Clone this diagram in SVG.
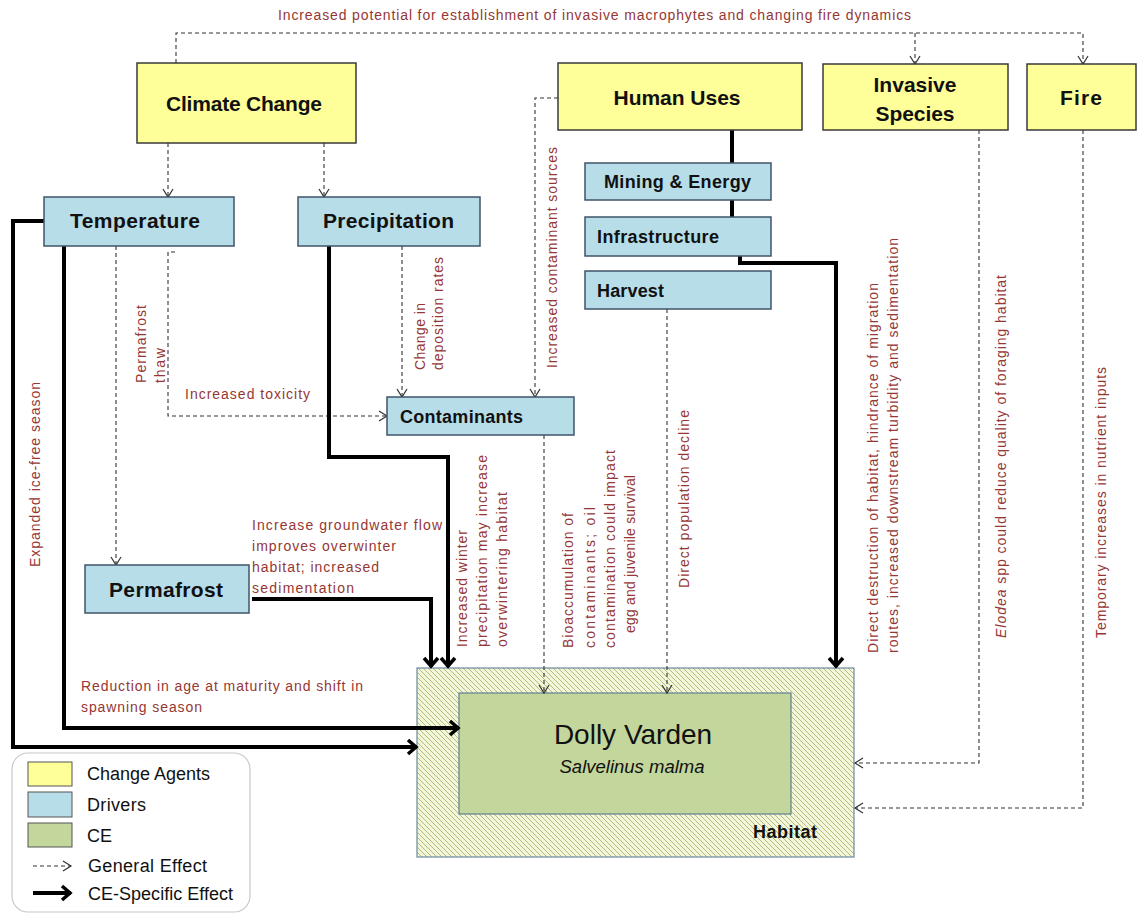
<svg xmlns="http://www.w3.org/2000/svg" width="1139" height="919" viewBox="0 0 1139 919">
<style>
text{font-family:"Liberation Sans",Arial,sans-serif}
.ya{fill:#ffff99;stroke:#3a3a3a;stroke-width:1.5}
.dr{fill:#b7dde8;stroke:#3f5468;stroke-width:1.5}
.hd{font-weight:bold;fill:#111}
.lbl{fill:#953735;font-size:14px}
.gen{fill:none;stroke:#333;stroke-width:1.1;stroke-dasharray:4 3;marker-end:url(#ga)}
.ce{fill:none;stroke:#000;stroke-width:4;marker-end:url(#ca)}
.cn{fill:none;stroke:#000;stroke-width:4}
.leg{font-size:18px;fill:#111}
</style>
<defs>
<marker id="ga" markerUnits="userSpaceOnUse" markerWidth="20" markerHeight="20" viewBox="-10 -10 20 20" refX="0" refY="0" orient="auto">
<path d="M-8,-5 L0,0 L-8,5" fill="none" stroke="#333" stroke-width="1.2"/>
</marker>
<marker id="ca" markerUnits="userSpaceOnUse" markerWidth="24" markerHeight="24" viewBox="-12 -12 24 24" refX="0" refY="0" orient="auto">
<path d="M-9,-7 L-1,0 L-9,7" fill="none" stroke="#000" stroke-width="3.5"/>
</marker>
<pattern id="hatch" patternUnits="userSpaceOnUse" width="5" height="5">
<rect width="5" height="5" fill="#f3f6dc"/>
<path d="M0,0 L5,5 M-1,4 L1,6 M4,-1 L6,1" stroke="#a9b86a" stroke-width="0.9"/>
</pattern>
</defs>
<rect width="1139" height="919" fill="#fff"/>

<text class="lbl" x="278" y="20" textLength="633">Increased potential for establishment of invasive macrophytes and changing fire dynamics</text>

<g id="habitat">
<rect x="417" y="668" width="437" height="189" fill="url(#hatch)" stroke="#6c8aa0" stroke-width="1.2"/>
<text class="hd" x="753" y="838" font-size="18" textLength="64">Habitat</text>
</g>
<g id="dolly-varden">
<rect x="459" y="693" width="332" height="121" fill="#c3d69b" stroke="#5f7f8f" stroke-width="1.2"/>
<text x="633" y="744" font-size="28" fill="#111" text-anchor="middle">Dolly Varden</text>
<text x="632" y="773" font-size="18.5" font-style="italic" fill="#111" text-anchor="middle">Salvelinus malma</text>
</g>

<g id="connectors">
<path class="gen" d="M176,63 L176,33 L1083,33 L1083,64"/>
<path class="gen" d="M915,33 L915,64"/>
<path class="gen" d="M168,143 L168,197"/>
<path class="gen" d="M324,143 L324,197"/>
<path class="gen" d="M558,98 L535,98 L535,397"/>
<path class="gen" d="M175,252 L168,252 L168,416 L387,416"/>
<path class="gen" d="M116,246 L116,565"/>
<path class="gen" d="M402,246 L402,397"/>
<path class="gen" d="M544,435 L544,693"/>
<path class="gen" d="M667,309 L667,693"/>
<path class="gen" d="M979,130 L979,763 L855,763"/>
<path class="gen" d="M1083,130 L1083,808 L855,808"/>
<path class="cn" d="M732,130 L732,163"/>
<path class="cn" d="M732,200 L732,217"/>
<path class="ce" d="M740,256 L740,263 L836,263 L836,667"/>
<path class="ce" d="M44,221 L13,221 L13,747 L417,747"/>
<path class="ce" d="M64,246 L64,728 L459,728"/>
<path class="ce" d="M329,246 L329,457 L448,457 L448,667"/>
<path class="ce" d="M252,599 L431,599 L431,667"/>
</g>

<g id="climate-change">
<rect class="ya" x="137" y="63" width="219" height="80"/>
<text class="hd" x="244" y="111" font-size="21" text-anchor="middle" textLength="156">Climate Change</text>
</g>
<g id="human-uses">
<rect class="ya" x="558" y="63" width="244" height="67"/>
<text class="hd" x="677" y="105" font-size="21" text-anchor="middle" textLength="127">Human Uses</text>
</g>
<g id="invasive-species">
<rect class="ya" x="823" y="64" width="185" height="66"/>
<text class="hd" x="915" y="92" font-size="21" text-anchor="middle" textLength="83">Invasive</text>
<text class="hd" x="915" y="121" font-size="21" text-anchor="middle" textLength="79">Species</text>
</g>
<g id="fire">
<rect class="ya" x="1027" y="64" width="109" height="66"/>
<text class="hd" x="1081" y="105" font-size="21" text-anchor="middle" textLength="42">Fire</text>
</g>
<g id="temperature">
<rect class="dr" x="44" y="197" width="190" height="49"/>
<text class="hd" x="70" y="228" font-size="21" textLength="130">Temperature</text>
</g>
<g id="precipitation">
<rect class="dr" x="298" y="197" width="182" height="49"/>
<text class="hd" x="323" y="228" font-size="21" textLength="131">Precipitation</text>
</g>
<g id="mining-energy">
<rect class="dr" x="585" y="163" width="186" height="37"/>
<text class="hd" x="604" y="188" font-size="18" textLength="147">Mining &amp; Energy</text>
</g>
<g id="infrastructure">
<rect class="dr" x="585" y="217" width="186" height="39"/>
<text class="hd" x="597" y="243" font-size="18" textLength="122">Infrastructure</text>
</g>
<g id="harvest">
<rect class="dr" x="585" y="271" width="186" height="38"/>
<text class="hd" x="597" y="297" font-size="18" textLength="67">Harvest</text>
</g>
<g id="contaminants">
<rect class="dr" x="387" y="397" width="187" height="38"/>
<text class="hd" x="400" y="423" font-size="18" textLength="123">Contaminants</text>
</g>
<g id="permafrost">
<rect class="dr" x="85" y="565" width="164" height="48"/>
<text class="hd" x="109" y="597" font-size="21" textLength="114">Permafrost</text>
</g>

<g id="labels">
<text class="lbl" transform="translate(557,368) rotate(-90)" textLength="221">Increased contaminant sources</text>
<text class="lbl" transform="translate(40,567) rotate(-90)" textLength="185">Expanded  ice-free season</text>
<text class="lbl" transform="translate(146,383) rotate(-90)" textLength="78">Permafrost</text>
<text class="lbl" transform="translate(165,383) rotate(-90)" textLength="35">thaw</text>
<text class="lbl" transform="translate(425,370) rotate(-90)" textLength="67">Change in</text>
<text class="lbl" transform="translate(443,370) rotate(-90)" textLength="113">deposition rates</text>
<text class="lbl" x="185" y="399" textLength="125">Increased toxicity</text>
<text class="lbl" transform="translate(467,647) rotate(-90)" textLength="117">Increased winter</text>
<text class="lbl" transform="translate(487,647) rotate(-90)" textLength="192">precipitation may increase</text>
<text class="lbl" transform="translate(507,647) rotate(-90)" textLength="155">overwintering habitat</text>
<text class="lbl" transform="translate(573,648) rotate(-90)" textLength="135">Bioaccumulation of</text>
<text class="lbl" transform="translate(595,648) rotate(-90)" textLength="141">contaminants; oil</text>
<text class="lbl" transform="translate(615,648) rotate(-90)" textLength="198">contamination could impact</text>
<text class="lbl" transform="translate(635,633) rotate(-90)" textLength="158">egg  and juvenile survival</text>
<text class="lbl" transform="translate(689,588) rotate(-90)" textLength="178">Direct population decline</text>
<text class="lbl" transform="translate(878,653) rotate(-90)" textLength="370">Direct destruction of habitat, hindrance of migration</text>
<text class="lbl" transform="translate(898,653) rotate(-90)" textLength="415">routes, increased downstream turbidity and sedimentation</text>
<text class="lbl" transform="translate(1006,638) rotate(-90)" textLength="363"><tspan font-style="italic">Elodea</tspan> spp could reduce quality of foraging  habitat</text>
<text class="lbl" transform="translate(1106,638) rotate(-90)" textLength="271">Temporary increases in nutrient inputs</text>
<text class="lbl" x="252" y="530" textLength="190">Increase groundwater flow</text>
<text class="lbl" x="252" y="551" textLength="144">improves overwinter</text>
<text class="lbl" x="252" y="572" textLength="127">habitat; increased</text>
<text class="lbl" x="252" y="593" textLength="102">sedimentation</text>
<text class="lbl" x="81" y="691" textLength="282">Reduction in age at maturity and shift in</text>
<text class="lbl" x="81" y="712" textLength="121">spawning season</text>
</g>

<g id="legend">
<rect x="12" y="753" width="238" height="159" rx="16" fill="#fff" stroke="#c8c8c8" stroke-width="1.2"/>
<rect x="28" y="762" width="44" height="24" fill="#ffff99" stroke="#555" stroke-width="1"/>
<rect x="28" y="792" width="44" height="25" fill="#b7dde8" stroke="#555" stroke-width="1"/>
<rect x="28" y="823" width="44" height="24" fill="#c3d69b" stroke="#555" stroke-width="1"/>
<text class="leg" x="87" y="780" textLength="123">Change Agents</text>
<text class="leg" x="87" y="811" textLength="59">Drivers</text>
<text class="leg" x="87" y="842">CE</text>
<path class="gen" d="M33,866 L71,866"/>
<text class="leg" x="88" y="872" textLength="119">General Effect</text>
<path class="ce" d="M33,893 L71,893"/>
<text class="leg" x="88" y="900" textLength="145">CE-Specific Effect</text>
</g>
</svg>
